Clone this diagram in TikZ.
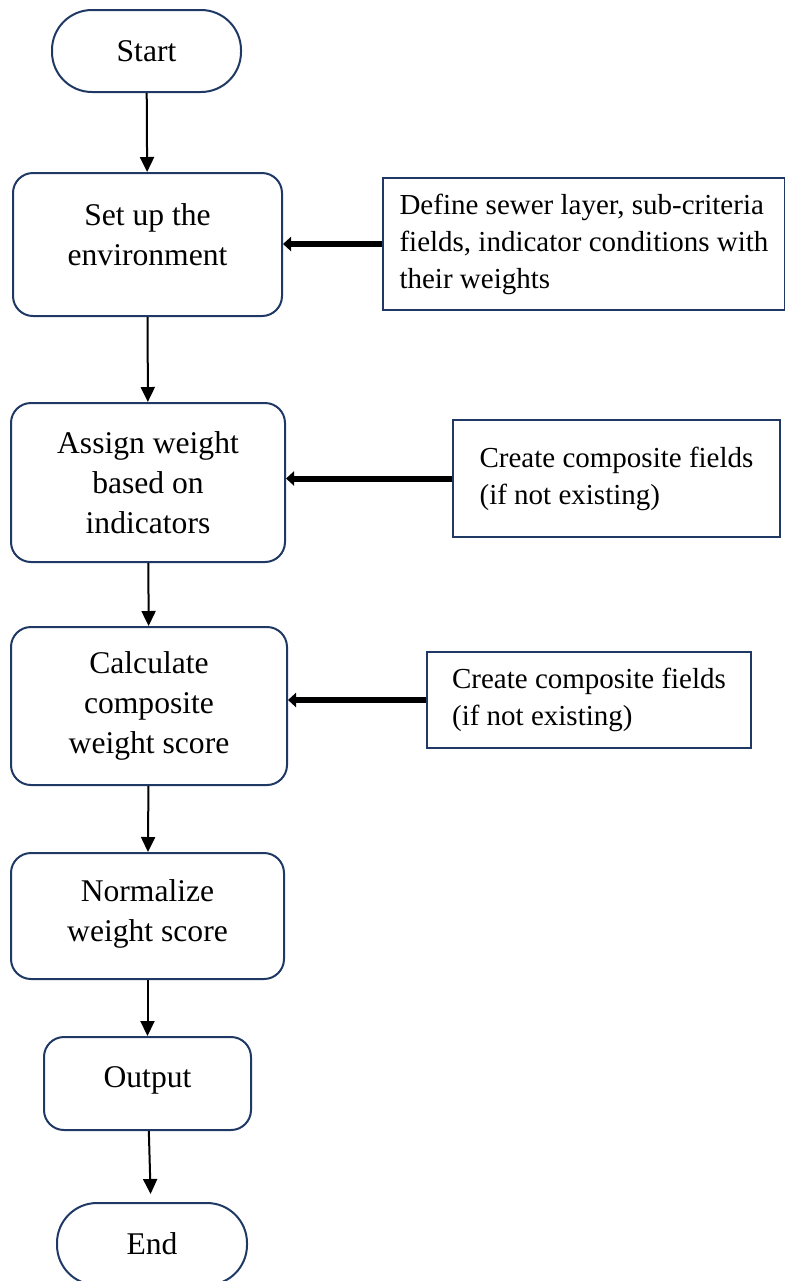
\documentclass[tikz,border=0pt]{standalone}
\usepackage{fontspec}
\setmainfont{Liberation Serif}
\usepackage{tikz}
\usetikzlibrary{arrows.meta}
\definecolor{boxline}{HTML}{1F3864}
\tikzset{
  % Node styles for the flow: terminals, steps and side notes
  terminal node/.style={rectangle,draw=boxline,line width=1pt,rounded corners=20pt,
    minimum width=94.5pt,minimum height=41pt,font=\fontsize{15.8}{20}\selectfont},
  step node/.style={rectangle,draw=boxline,line width=1pt,rounded corners=10pt,
    align=center,font=\fontsize{15.8}{20}\selectfont},
  note node/.style={rectangle,draw=boxline,line width=1pt,
    align=left,font=\fontsize{14.5}{18.5}\selectfont},
  flow arrow/.style={line width=1pt,-{Triangle[length=7.5pt,width=7pt]}},
  feed arrow/.style={line width=3pt,-{Triangle[length=4pt,width=7pt]}}
}

\begin{document}
\begin{tikzpicture}[x=0.5pt,y=-0.5pt]
  \useasboundingbox (0,0) rectangle (785,1281);
  % The main column
  \node(start)[terminal node] at (146.5,51) {Start};
  \node(setup)[step node,minimum width=134.5pt,minimum height=71.5pt,text depth=10pt] at (147.5,244.5)
    {Set up the\\environment};
  \node(assign)[step node,minimum width=137pt,minimum height=79.5pt] at (148,482.5)
    {Assign weight\\based on\\indicators};
  \node(calc)[step node,minimum width=138pt,minimum height=79pt] at (149,706)
    {Calculate\\composite\\weight score};
  \node(norm)[step node,minimum width=136.5pt,minimum height=63pt,text depth=5pt] at (147.5,916)
    {Normalize\\weight score};
  \node(output)[step node,minimum width=103.5pt,minimum height=46.5pt,text depth=6pt] at (147.5,1083.5)
    {Output};
  \node(end)[terminal node,minimum width=95pt] at (152,1244) {End};
  % side notes
  \node(define)[note node,minimum width=201pt,minimum height=66pt] at (584,244)
    {Define sewer layer, sub-criteria\\fields, indicator conditions with\\their weights};
  \node(create1)[note node,minimum width=163.5pt,minimum height=58.5pt] at (616.5,478.5)
    {Create composite fields\\(if not existing)};
  \node(create2)[note node,minimum width=162pt,minimum height=48pt] at (589,700)
    {Create composite fields\\(if not existing)};
  % connectors
  \draw[flow arrow] (start) -- (setup);
  \draw[flow arrow] (setup) -- (assign);
  \draw[flow arrow] (assign) -- (calc);
  \draw[flow arrow] (calc) -- (norm);
  \draw[flow arrow] (norm) -- (output);
  \draw[flow arrow,shorten >=4pt] (output) -- (end);
  \draw[feed arrow] (define.west) -- (define.west -| setup.east);
  \draw[feed arrow] (create1.west) -- (create1.west -| assign.east);
  \draw[feed arrow] (create2.west) -- (create2.west -| calc.east);
\end{tikzpicture}
\end{document}
